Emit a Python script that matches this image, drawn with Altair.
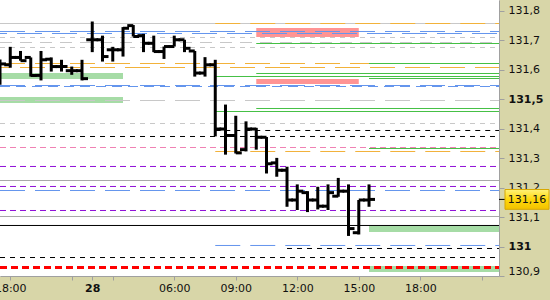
import altair as alt
import pandas as pd

# ---------------- data ----------------
# OHLC bars (index = bar slot on the time axis)
bar_index = list(range(37))
opens = [131.600, 131.617, 131.642, 131.642, 131.581, 131.636, 131.611, 131.597, 131.597,
         131.702, 131.702, 131.668, 131.668, 131.750, 131.716, 131.690, 131.662, 131.679,
         131.702, 131.664, 131.589, 131.617, 131.399, 131.377, 131.329, 131.399, 131.371,
         131.284, 131.259, 131.158, 131.183, 131.158, 131.137, 131.171, 131.188, 131.047, 131.158]
highs = [131.635, 131.678, 131.664, 131.642, 131.664, 131.642, 131.634, 131.611, 131.634,
         131.764, 131.716, 131.678, 131.745, 131.752, 131.722, 131.716, 131.679, 131.716,
         131.702, 131.664, 131.643, 131.634, 131.482, 131.444, 131.425, 131.403, 131.372,
         131.301, 131.271, 131.211, 131.188, 131.203, 131.211, 131.233, 131.211, 131.158, 131.211]
lows = [131.549, 131.607, 131.631, 131.577, 131.564, 131.594, 131.594, 131.583, 131.564,
        131.660, 131.628, 131.628, 131.645, 131.713, 131.660, 131.660, 131.637, 131.679,
        131.660, 131.577, 131.577, 131.374, 131.312, 131.316, 131.323, 131.329, 131.248,
        131.237, 131.135, 131.124, 131.117, 131.126, 131.124, 131.169, 131.036, 131.041, 131.135]
closes = [131.620, 131.642, 131.631, 131.581, 131.634, 131.611, 131.611, 131.597, 131.570,
          131.702, 131.645, 131.668, 131.741, 131.713, 131.690, 131.662, 131.679, 131.702,
          131.673, 131.589, 131.617, 131.399, 131.377, 131.318, 131.399, 131.371, 131.281,
          131.259, 131.158, 131.188, 131.158, 131.137, 131.183, 131.188, 131.061, 131.158, 131.160]

# horizontal levels: price, first bar, style
level_price = [131.7572, 131.7572, 131.7301, 131.7233, 131.7097, 131.6927, 131.6893, 131.6757,
               131.6214, 131.6214, 131.6078, 131.5875, 131.5773, 131.5705, 131.5467, 131.5433,
               131.4958, 131.4687, 131.4585, 131.4177, 131.3940, 131.3736, 131.3363, 131.3329,
               131.3227, 131.2718, 131.2242, 131.2039, 131.1903, 131.1224, 131.1020, 131.0715,
               131.0036, 130.9934, 130.9628, 130.9289]
level_start = [0, 21, 0, 0, 0, 0, 25, 0,
               0, 36, 0, 25, 21, 36, 0, 0,
               0, 25, 21, 0, 21, 0, 0, 36,
               21, 0, 0, 0, 0, 0, 0, 0,
               21, 28, 0, 0]
level_style = ["gray_light", "orange", "blue", "blue_b", "gray_short", "gray_mid", "green", "gray_short",
               "orange", "green", "orange_b", "green", "green", "green", "blue", "blue_fine",
               "gray_long", "green", "green", "gray_short", "black_dash", "black_dash", "pink", "green",
               "orange", "purple", "gray_solid", "purple", "blue", "purple", "gray_solid", "black_solid",
               "blue", "black_dash", "black_dash", "red_thick"]

# zones: top price, bottom price, first bar, last bar, colour name
zone_top = [131.5892, 131.5077, 131.7419, 131.5688, 131.0694, 130.9340]
zone_bottom = [131.5688, 131.4873, 131.7114, 131.5518, 131.0490, 130.9136]
zone_start = [0, 0, 25, 25, 36, 36]
zone_end = [12, 12, 35, 35, None, None]
zone_kind = ["green", "green", "red", "red", "green", "green"]

# axes
x_tick_values = [1, 7, 9, 11, 17, 23, 29, 35, 41, 47]
x_tick_labels = ["18:00", "", "28", "", "06:00", "09:00", "12:00", "15:00", "18:00", ""]
y_tick_values = [130.9, 131.0, 131.1, 131.2, 131.3, 131.4, 131.5, 131.6, 131.7, 131.8]
y_bold_values = [131.0, 131.5]

# ---------------- styling ----------------
X_DOMAIN = [0, 48.68]
Y_DOMAIN = [130.9, 131.837]
FONT = "DejaVu Sans"
AXIS_GRAY = "#a0a0a0"

styles = {
    "gray_light": dict(color="#c8c8c8"),
    "gray_short": dict(color="#c8c8c8", strokeDash=[5, 5]),
    "gray_mid": dict(color="#c8c8c8", strokeDash=[12, 8]),
    "gray_long": dict(color="#c8c8c8", strokeDash=[25, 10]),
    "orange": dict(color="#f2b23a", strokeDash=[25, 10]),
    "orange_b": dict(color="#f2b23a", strokeDash=[25, 10], strokeDashOffset=15),
    "blue": dict(color="#6495ed", strokeDash=[25, 10]),
    "blue_b": dict(color="#6495ed", strokeDash=[25, 10], strokeDashOffset=18),
    "blue_fine": dict(color="#6495ed", strokeDash=[10, 6]),
    "green": dict(color="#44c044"),
    "black_dash": dict(color="#000000", strokeDash=[5, 5]),
    "black_solid": dict(color="#000000"),
    "pink": dict(color="#f080b4", strokeDash=[6, 4]),
    "purple": dict(color="#9010d8", strokeDash=[6, 4]),
    "gray_solid": dict(color="#a8a8a8"),
    "red_thick": dict(color="#ff0000", strokeDash=[7, 4], strokeWidth=3),
}
zone_colors = {"green": "#a6dca6", "red": "#ff9494"}

x_label_expr = " : ".join(
    f"datum.value == {v} ? '{t}'" for v, t in zip(x_tick_values, x_tick_labels)
) + " : ''"
y_bold_test = " || ".join(f"abs(datum.value - {v}) < 0.001" for v in y_bold_values)

x_axis = alt.Axis(
    values=x_tick_values, labelExpr=x_label_expr, title=None, grid=False,
    tickSize=4, tickColor=AXIS_GRAY, domainColor=AXIS_GRAY, labelPadding=2,
    labelFont=FONT, labelFontSize=11, labelColor="#101010", labelFlush=False,
    labelOverlap=False,
    labelFontWeight={"condition": {"test": "datum.value == 9", "value": "bold"}, "value": "normal"},
)
y_axis = alt.Axis(
    orient="right", values=y_tick_values, title=None, grid=False,
    labelExpr="abs(datum.value - round(datum.value)) < 0.001 ? format(datum.value, '.0f') : replace(format(datum.value, '.1f'), '.', ',')",
    tickSize=5, tickColor=AXIS_GRAY, domainColor=AXIS_GRAY, labelPadding=4,
    labelFont=FONT, labelFontSize=11, labelColor="#101010", labelFlush=True,
    labelOverlap=False,
    labelFontWeight={"condition": {"test": y_bold_test, "value": "bold"}, "value": "normal"},
)
x_scale = alt.Scale(domain=X_DOMAIN, nice=False, zero=False)
y_scale = alt.Scale(domain=Y_DOMAIN, nice=False, zero=False)


def X(field):
    return alt.X(field, type="quantitative", scale=x_scale, axis=x_axis)


def Y(field):
    return alt.Y(field, type="quantitative", scale=y_scale, axis=y_axis)


layers = []

# white plotting area
area = pd.DataFrame({"x0": [X_DOMAIN[0]], "x1": [X_DOMAIN[1]],
                     "y0": [Y_DOMAIN[0]], "y1": [Y_DOMAIN[1]]})
layers.append(
    alt.Chart(area).mark_rect(color="white", opacity=1).encode(
        x=X("x0"), x2="x1", y=Y("y0"), y2="y1"
    )
)

# zones
zones = pd.DataFrame({
    "top": zone_top, "bottom": zone_bottom, "start": zone_start,
    "end": [e if e is not None else X_DOMAIN[1] for e in zone_end], "kind": zone_kind,
})
for kind, sub in zones.groupby("kind"):
    layers.append(
        alt.Chart(sub).mark_rect(color=zone_colors[kind], opacity=1, clip=True).encode(
            x=X("start"), x2="end", y=Y("top"), y2="bottom"
        )
    )

# level lines
levels = pd.DataFrame({"price": level_price, "start": level_start, "style": level_style})
levels["end"] = X_DOMAIN[1]
for style, sub in levels.groupby("style", sort=False):
    st = dict(styles[style])
    st.setdefault("strokeWidth", 1)
    layers.append(
        alt.Chart(sub).mark_rule(clip=True, **st).encode(
            x=X("start"), x2="end", y=Y("price")
        )
    )

# OHLC bars
ohlc = pd.DataFrame({"i": bar_index, "open": opens, "high": highs, "low": lows, "close": closes})
base = alt.Chart(ohlc)
layers.append(
    base.mark_rule(color="black", strokeWidth=3, clip=True).encode(
        x=X("i"), y=Y("low"), y2="high"
    )
)
layers.append(
    base.mark_tick(color="black", orient="horizontal", size=6, thickness=3, xOffset=-3,
                   opacity=1, clip=True).encode(x=X("i"), y=Y("open"))
)
layers.append(
    base.mark_tick(color="black", orient="horizontal", size=6, thickness=3, xOffset=3,
                   opacity=1, clip=True).encode(x=X("i"), y=Y("close"))
)

# last-price marker on the right scale
last = pd.DataFrame({"price": [closes[-1]],
                     "label": [f"{closes[-1]:.2f}".replace(".", ",")]})
mk = alt.Chart(last)
layers.append(
    mk.mark_rule(color="black", strokeWidth=1).encode(
        x=alt.value(499), x2=alt.value(505), y=Y("price")
    )
)
layers.append(
    mk.mark_point(
        shape="M-1,-0.45L1,-0.45L1,0.45L-1,0.45Z", size=1936, filled=True, opacity=1,
        fill={"gradient": "linear", "x1": 0, "y1": 0, "x2": 0, "y2": 1,
              "stops": [{"offset": 0, "color": "#fff27a"}, {"offset": 0.5, "color": "#ffd80a"},
                        {"offset": 1, "color": "#f2c200"}]},
        stroke="#d8a800", strokeWidth=1,
    ).encode(x=alt.value(527), y=Y("price"))
)
layers.append(
    mk.mark_text(font=FONT, fontSize=11, color="#101010", align="center", baseline="middle", dy=1).encode(
        x=alt.value(527), y=Y("price"), text="label"
    )
)

chart = alt.layer(*layers).properties(
    width=499, height=276,
    background="#d8d6a8",
    padding={"left": 0, "top": 0, "right": 51, "bottom": 24},
    autosize=alt.AutoSizeParams(type="none"),
).configure_view(stroke=None, fill="white").configure(font=FONT)

chart.save("out.html", embed_options={"renderer": "svg", "actions": False})
